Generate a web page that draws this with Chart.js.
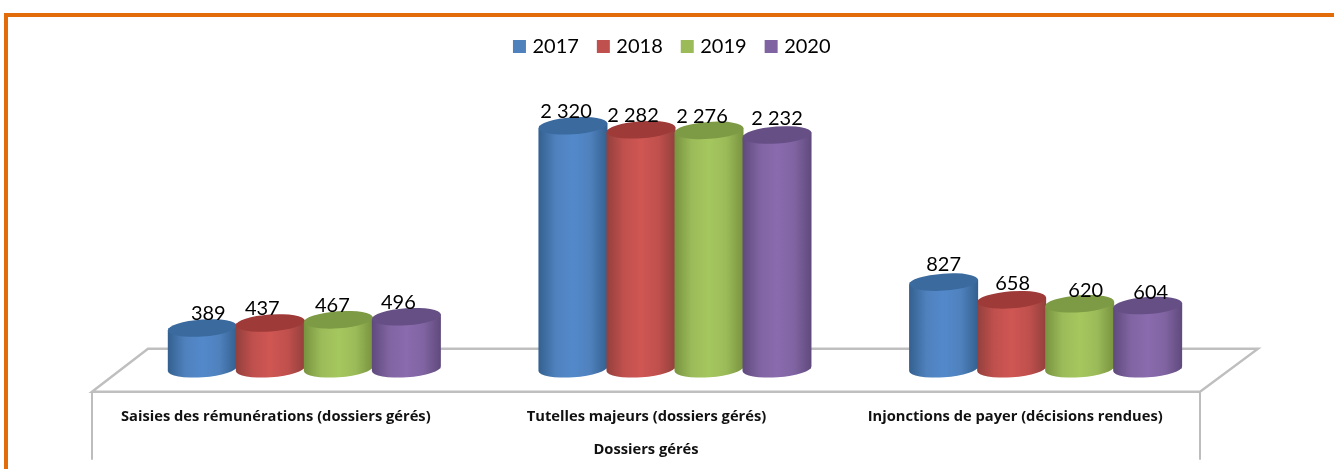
<!DOCTYPE html>
<html lang="fr">
<head>
<meta charset="utf-8">
<title>Dossiers gérés</title>
<script src="https://cdn.jsdelivr.net/npm/chart.js@4"></script>
<style>
html,body{margin:0;padding:0;background:#fff;overflow:hidden}
#frame{position:absolute;left:4px;top:13px;right:0;bottom:0;border-left:4.5px solid #e36c0a;border-top:4.5px solid #e36c0a}
#c{position:absolute;left:0;top:0;display:block}
</style>
</head>
<body>
<div id="frame"></div>
<canvas id="c" width="1334" height="469"></canvas>
<script>
const categories = ["Saisies des rémunérations (dossiers gérés)", "Tutelles majeurs (dossiers gérés)", "Injonctions de payer (décisions rendues)"];
const axisTitle = "Dossiers gérés";
const years = ["2017", "2018", "2019", "2020"];
const values2017 = [389, 2320, 827];
const values2018 = [437, 2282, 658];
const values2019 = [467, 2276, 620];
const values2020 = [496, 2232, 604];

const palette = [
  {base:"#4f81bd", light:"#5389cb", dark:"#33608f", top:"#3b6a9f"},
  {base:"#c0504d", light:"#cf5653", dark:"#93403d", top:"#9e3a38"},
  {base:"#9bbb59", light:"#a5c75e", dark:"#78933f", top:"#7d9a45"},
  {base:"#8064a2", light:"#8a6bae", dark:"#5f4a7c", top:"#664f85"}
];
// small hand nudges of the value labels, by series then category
const labelNudgeX = [[6,-7,0],[-8,-8,1],[-6,-7,6],[-8,0,3]];
const labelNudgeY = [[0,0,-4],[0,0,-2],[0,0,1],[0,-2,1]];
// the 3D floor puts the axis text left of the bars
const tickShift = [-28.5, -28.5, -30.5];
const titleShift = -29;

const fmt = v => String(v).replace(/\B(?=(\d{3})+$)/g, " ");

const cylinders = {
  id: "cylinders",
  beforeDatasetsDraw(chart) {
    const {ctx, chartArea:a} = chart;
    ctx.save();
    ctx.strokeStyle = "#bfbfbf";
    ctx.lineWidth = 2.4;
    ctx.lineJoin = "miter";
    ctx.beginPath();
    ctx.moveTo(a.left - 27, a.bottom + 23);
    ctx.lineTo(a.left + 29, a.bottom - 20);
    ctx.lineTo(a.right + 27, a.bottom - 20);
    ctx.lineTo(a.right - 31, a.bottom + 23);
    ctx.closePath();
    ctx.stroke();
    ctx.strokeStyle = "#a8a8a8";
    ctx.lineWidth = 1.5;
    ctx.beginPath();
    ctx.moveTo(a.left - 27, a.bottom + 24);
    ctx.lineTo(a.left - 27, a.bottom + 91);
    ctx.moveTo(a.right - 31, a.bottom + 24);
    ctx.lineTo(a.right - 31, a.bottom + 91);
    ctx.stroke();
    ctx.restore();
  },
  afterDatasetsDraw(chart) {
    const ctx = chart.ctx;
    const ry = 8.5, tilt = -4 * Math.PI / 180;
    chart.data.datasets.forEach((ds, si) => {
      const p = palette[si];
      chart.getDatasetMeta(si).data.forEach(bar => {
        const cx = bar.x, rx = bar.width / 2 + 0.5;
        const dy = Math.sin(tilt) * rx;
        const g = ctx.createLinearGradient(cx - rx, 0, cx + rx, 0);
        g.addColorStop(0, p.dark);
        g.addColorStop(0.25, p.base);
        g.addColorStop(0.5, p.light);
        g.addColorStop(0.75, p.base);
        g.addColorStop(1, p.dark);
        ctx.save();
        ctx.fillStyle = g;
        ctx.beginPath();
        ctx.moveTo(cx - rx, bar.y - dy);
        ctx.lineTo(cx - rx, bar.base - dy);
        ctx.ellipse(cx, bar.base, rx, ry, tilt, Math.PI, 0, true);
        ctx.lineTo(cx + rx, bar.y + dy);
        ctx.closePath();
        ctx.fill();
        ctx.fillStyle = p.top;
        ctx.beginPath();
        ctx.ellipse(cx, bar.y, rx, ry, tilt, 0, Math.PI * 2);
        ctx.fill();
        ctx.restore();
      });
    });
    ctx.save();
    ctx.fillStyle = "#000";
    ctx.font = "20px Lato";
    ctx.textAlign = "center";
    ctx.textBaseline = "middle";
    chart.data.datasets.forEach((ds, si) => {
      chart.getDatasetMeta(si).data.forEach((bar, i) => {
        ctx.fillText(fmt(ds.data[i]), bar.x + labelNudgeX[si][i], bar.y - 14 + labelNudgeY[si][i]);
      });
    });
    ctx.restore();
  }
};

const seriesValues = [values2017, values2018, values2019, values2020];

new Chart(document.getElementById("c"), {
  type: "bar",
  data: {
    labels: categories,
    datasets: years.map((y, i) => ({
      label: y,
      data: seriesValues[i],
      backgroundColor: palette[i].base,
      categoryPercentage: 0.738,
      barPercentage: 1
    }))
  },
  plugins: [cylinders],
  options: {
    responsive: false,
    animation: false,
    layout: {padding: {left: 116, right: 103, top: 15, bottom: 10}},
    plugins: {
      tooltip: {enabled: false},
      legend: {
        position: "top",
        align: "center",
        labels: {
          boxWidth: 6,
          boxHeight: 6,
          padding: 21.5,
          color: "#000",
          font: {family: "Lato", size: 20},
          generateLabels(chart) {
            return chart.data.datasets.map((d, i) => ({
              text: d.label,
              fillStyle: palette[i].base,
              strokeStyle: palette[i].base,
              lineWidth: 7,
              datasetIndex: i,
              fontColor: "#000"
            }));
          }
        }
      }
    },
    scales: {
      x: {
        grid: {display: false, drawTicks: false},
        border: {display: false},
        ticks: {color: "#111", padding: 39, maxRotation: 0, autoSkip: false, font: {family: "Open Sans", size: 14.7, weight: "bold"}},
        title: {display: true, text: axisTitle, color: "#111", padding: {top: -23, bottom: 0}, font: {family: "Open Sans", size: 14.7, weight: "bold"}},
        afterDataLimits(scale) {
          scale.getPixelForTick = i => scale.getPixelForValue(scale.ticks[i].value) + tickShift[i];
          const drawTitle = scale.drawTitle;
          scale.drawTitle = function () {
            this.ctx.save();
            this.ctx.translate(titleShift, 0);
            drawTitle.call(this);
            this.ctx.restore();
          };
        }
      },
      y: {
        display: true,
        min: 0,
        max: 2886,
        grid: {display: false, drawTicks: false},
        border: {display: false},
        ticks: {display: false},
        afterFit(scale) { scale.width = 3; }
      }
    }
  }
});
</script>
</body>
</html>
